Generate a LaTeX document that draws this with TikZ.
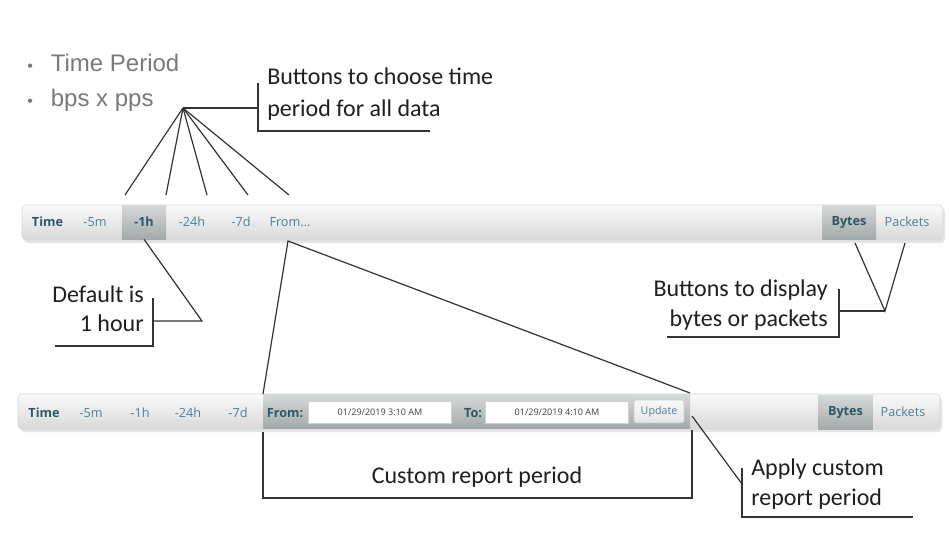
\documentclass[tikz,border=0pt]{standalone}
\usepackage{fontspec}
\usepackage{xcolor}
\setmainfont{Carlito}
\newfontfamily\barfont{Open Sans}
\newfontfamily\slidefont{Liberation Sans}
\usetikzlibrary{positioning}

\definecolor{bartext}{HTML}{4E7E98}
\definecolor{bardark}{HTML}{2C5868}
\definecolor{slidegray}{HTML}{7A7A7A}
\definecolor{pointergray}{HTML}{333333}
\definecolor{hitop}{HTML}{D6D9D9}
\definecolor{hibottom}{HTML}{A3A9AA}

\tikzset{
	bar/.style={draw=black!16, rounded corners=3pt, top color=black!2, bottom color=black!15},
	barshadow/.style={fill=black!10, rounded corners=3pt},
	hibtn/.style={top color=hitop, bottom color=hibottom, inner sep=0pt},
	btn/.style={font=\barfont\fontsize{9.5}{10}\selectfont, text=bartext, inner sep=0pt},
	btnbold/.style={btn, font=\barfont\bfseries\fontsize{9.5}{10}\selectfont, text=bardark},
	datebox/.style={draw=black!18, fill=white, inner sep=0pt, minimum width=107pt, minimum height=16.5pt,
		font=\barfont\fontsize{6.8}{7}\selectfont, text=black!75},
	slide/.style={font=\slidefont\fontsize{18}{21}\selectfont, text=slidegray, anchor=west, inner sep=0pt},
	callout/.style={font=\fontsize{18}{22}\selectfont, text=black!88, inner sep=0pt},
	pointer/.style={draw=pointergray, line width=0.9pt},
}

\begin{document}
\begin{tikzpicture}[x=0.75pt, y=-0.75pt]
	\useasboundingbox[fill=white] (0,0) rectangle (949,540);

	% slide bullets
	\node[slide] (period) at (27,63) {{\fontsize{12}{12}\selectfont •}\hspace{13.5pt}Time Period};
	\node[slide] (rate) at (27,100) {{\fontsize{12}{12}\selectfont •}\hspace{13.5pt}bps x pps};

	% upper bar
	\fill[barshadow] (24,208) rectangle (945,243);
	\draw[bar] (22,205) rectangle (943,240);
	\node[btnbold] (time) at (47.5,222) {Time};
	\node[btn] (b5m) at (95,222) {-5m};
	\node[hibtn, minimum width=33pt, minimum height=25.5pt, btnbold] (b1h) at (144,222) {-1h};
	\node[btn] (b24h) at (192,222) {-24h};
	\node[btn] (b7d) at (241,222) {-7d};
	\node[btn] (from) at (290,222) {From...};
	\node[hibtn, minimum width=40.5pt, minimum height=25.5pt, btnbold] (bytes) at (849,222) {Bytes};
	\node[btn] (packets) at (907,222) {Packets};

	% lower bar
	\fill[barshadow] (20,397) rectangle (942,432);
	\draw[bar] (18,394) rectangle (940,429);
	\path[hibtn] (263,394.5) rectangle (690,428.5);
	\node[btnbold] (time2) at (44,413) {Time};
	\node[btn] (c5m) at (91,413) {-5m};
	\node[btn] (c1h) at (140,413) {-1h};
	\node[btn] (c24h) at (188,413) {-24h};
	\node[btn] (c7d) at (238,413) {-7d};
	\node[btnbold] (fromlbl) at (285,413) {From:};
	\node[datebox] (fromdate) at (380,412) {01/29/2019 3:10 AM};
	\node[btnbold] (tolbl) at (473,413) {To:};
	\node[datebox] (todate) at (557,412) {01/29/2019 4:10 AM};
	\node[draw=black!20, rounded corners=1.5pt, top color=black!2, bottom color=black!10, minimum width=37.5pt,
		minimum height=17pt, btn, font=\barfont\fontsize{8}{9}\selectfont] (update) at (659,411.5) {Update};
	\node[hibtn, minimum width=41pt, minimum height=25.5pt, btnbold] (bytes2) at (845.5,412) {Bytes};
	\node[btn] (packets2) at (903,412) {Packets};

	% callout: time period buttons
	\node[callout, anchor=west, align=left, font=\fontsize{18}{23.5}\selectfont] (choose) at (267,94) {Buttons to choose time\\period for all data};
	\coordinate (hubA) at (183,108);
	\foreach \x [count=\i] in {125,166,207,248,289}
		\coordinate (fan\i) at (\x,195);
	\foreach \i in {1,...,5}
		\draw[pointer] (hubA) -- (fan\i);
	\draw[pointer] (hubA) -- (258,108);
	\draw[pointer] (258,83) -- (258,131) -- (430,131);

	% callout: default
	\node[callout, anchor=east, align=right] (default) at (144,309) {Default is\\1 hour};
	\coordinate (hubB) at (202,321);
	\draw[pointer] (b1h.south) -- (hubB) -- (153,321);
	\draw[pointer] (153,298) -- (153,346) -- (55,346);

	% callout: bytes or packets
	\node[callout, anchor=east, align=right] (display) at (828,305) {Buttons to display\\bytes or packets};
	\coordinate (hubC) at (885,311);
	\coordinate (toBytes) at (855,243);
	\coordinate (toPackets) at (905,243);
	\draw[pointer] (toBytes) -- (hubC) -- (toPackets);
	\draw[pointer] (hubC) -- (839,311);
	\draw[pointer] (839,289) -- (839,337) -- (667,337);

	% zoom from "From..." into the custom period
	\coordinate (fromTip) at (288,241);
	\coordinate (customL) at (263,394);
	\coordinate (customR) at (690,393);
	\draw[pointer] (customL) -- (fromTip) -- (customR);

	% callout: custom report period
	\node[callout] (custom) at (477,477) {Custom report period};
	\draw[pointer] (263,432) -- (263,498) -- (692,498) -- (692,430);

	% callout: apply
	\node[callout, anchor=west, align=left] (apply) at (751,484) {Apply custom\\report period};
	\coordinate (applyHub) at (742,484);
	\draw[pointer] (692,416) -- (applyHub);
	\draw[pointer] (742,468) -- (742,517) -- (913,517);
\end{tikzpicture}
\end{document}
